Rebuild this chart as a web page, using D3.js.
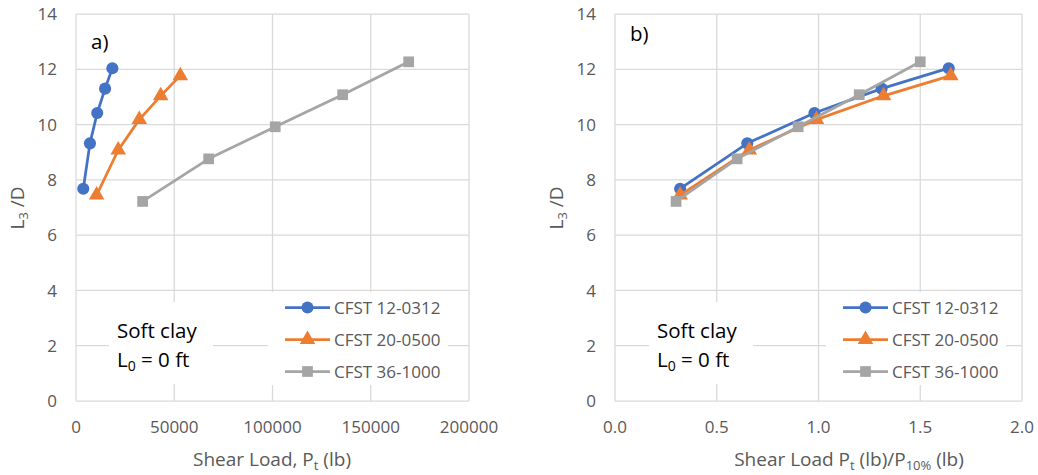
<!DOCTYPE html>
<meta charset="utf-8">
<style>
  body { margin: 0; background: #fff; }
  text { font-family: "Open Sans", "Liberation Sans", sans-serif; }
</style>
<body>
<script src="https://d3js.org/d3.v7.min.js"></script>
<script>

  // series names and L3/D values (same in both panels)
  const seriesNames = ["CFST 12-0312", "CFST 20-0500", "CFST 36-1000"];
  const colors = ["#4472c4", "#ed7d31", "#a5a5a5"];
  const symbols = [d3.symbolCircle, d3.symbolTriangle, d3.symbolSquare];

  const ld12 = [7.68, 9.32, 10.42, 11.30, 12.04];
  const ld20 = [7.45, 9.08, 10.18, 11.04, 11.77];
  const ld36 = [7.22, 8.76, 9.92, 11.08, 12.27];

  // panel a) shear load Pt (lb)
  const pt12 = [3700, 7100, 10800, 14800, 18500];
  const pt20 = [10500, 21500, 32200, 43100, 53100];
  const pt36 = [33900, 67500, 101400, 135700, 169300];

  // panel b) Pt / P10%
  const ratio12 = [0.32, 0.65, 0.98, 1.31, 1.64];
  const ratio20 = [0.32, 0.66, 0.99, 1.32, 1.65];
  const ratio36 = [0.30, 0.60, 0.90, 1.20, 1.50];

  const xTicksA = [0, 50000, 100000, 150000, 200000];
  const xTicksB = [0, 0.5, 1.0, 1.5, 2.0];
  const yTicks = [0, 2, 4, 6, 8, 10, 12, 14];

  const svg = d3.select("body").append("svg")
      .attr("width", 1038)
      .attr("height", 475);

  function panel(opt) {
    const x = d3.scaleLinear().domain(opt.xDomain).range([opt.left, opt.right]);
    const y = d3.scaleLinear().domain([0, 14]).range([401, 14]);
    const g = svg.append("g");

    // gridlines (also form the plot border)
    g.selectAll(".gx").data(opt.xTicks).enter().append("line")
      .attr("x1", d => x(d)).attr("x2", d => x(d))
      .attr("y1", y(0)).attr("y2", y(14))
      .attr("stroke", "#d9d9d9").attr("stroke-width", 1.25);
    g.selectAll(".gy").data(yTicks).enter().append("line")
      .attr("x1", x(opt.xDomain[0])).attr("x2", x(opt.xDomain[1]))
      .attr("y1", d => y(d)).attr("y2", d => y(d))
      .attr("stroke", "#d9d9d9").attr("stroke-width", 1.25);

    // tick labels
    g.selectAll(".tx").data(opt.xTicks).enter().append("text")
      .attr("x", d => x(d)).attr("y", 433)
      .attr("text-anchor", "middle")
      .attr("font-size", 17).attr("fill", "#595959")
      .text(opt.fmt);
    g.selectAll(".ty").data(yTicks).enter().append("text")
      .attr("x", opt.left - 19).attr("y", d => y(d))
      .attr("dy", "0.36em")
      .attr("text-anchor", "end")
      .attr("font-size", 17).attr("fill", "#595959")
      .text(d => d);

    // series
    const data = opt.xs.map((xs, i) => xs.map((v, j) => [v, opt.ys[i][j]]));
    const line = d3.line().x(d => x(d[0])).y(d => y(d[1]));
    data.forEach((pts, i) => {
      g.append("path").datum(pts)
        .attr("d", line)
        .attr("fill", "none")
        .attr("stroke", colors[i])
        .attr("stroke-width", 2.75)
        .attr("stroke-linejoin", "round");
      g.selectAll(null).data(pts).enter().append("path")
        .attr("transform", d => `translate(${x(d[0])},${y(d[1])})`)
        .attr("d", d3.symbol(symbols[i], i === 1 ? 105 : 115))
        .attr("fill", colors[i]);
    });

    // "Soft clay" note
    g.append("rect")
      .attr("x", opt.noteX - 8).attr("y", 302)
      .attr("width", 104).attr("height", 82)
      .attr("fill", "#fff");
    g.append("text")
      .attr("x", opt.noteX).attr("y", 338)
      .attr("font-size", 20.5).attr("fill", "#000")
      .text("Soft clay");
    const l0 = g.append("text")
      .attr("x", opt.noteX).attr("y", 367)
      .attr("font-size", 20.5).attr("fill", "#000");
    l0.append("tspan").text("L");
    l0.append("tspan").attr("font-size", 14).attr("dy", 4).text("0");
    l0.append("tspan").attr("dy", -4).text(" = 0 ft");

    // panel letter
    g.append("text")
      .attr("x", opt.letterX).attr("y", opt.letterY)
      .attr("font-size", 20.5).attr("fill", "#000")
      .text(opt.letter);

    // legend
    const lg = g.append("g");
    lg.append("rect")
      .attr("x", opt.legX - 17).attr("y", 292)
      .attr("width", 180).attr("height", 93)
      .attr("fill", "#fff");
    seriesNames.forEach((name, i) => {
      const ly = 307.5 + i * 32;
      lg.append("line")
        .attr("x1", opt.legX).attr("x2", opt.legX + 45)
        .attr("y1", ly).attr("y2", ly)
        .attr("stroke", colors[i]).attr("stroke-width", 2.75);
      lg.append("path")
        .attr("transform", `translate(${opt.legX + 22.5},${ly})`)
        .attr("d", d3.symbol(symbols[i], i === 1 ? 105 : 115))
        .attr("fill", colors[i]);
      lg.append("text")
        .attr("x", opt.legX + 49).attr("y", ly)
        .attr("dy", "0.36em")
        .attr("font-size", 17).attr("fill", "#595959")
        .text(name);
    });

    // y axis title
    const yt = g.append("text")
      .attr("transform", `translate(${opt.yTitleX},208) rotate(-90)`)
      .attr("text-anchor", "middle")
      .attr("font-size", 19).attr("fill", "#595959");
    yt.append("tspan").text("L");
    yt.append("tspan").attr("font-size", 13).attr("dy", 4).text("3");
    yt.append("tspan").attr("dy", -4).text(" /D");

    // x axis title
    const xt = g.append("text")
      .attr("x", opt.xTitleX).attr("y", 466)
      .attr("text-anchor", "middle")
      .attr("font-size", 19).attr("fill", "#595959");
    opt.xTitle.forEach(part => {
      const t = xt.append("tspan").text(part[0]);
      if (part[1]) t.attr("font-size", 13).attr("dy", 4);
      if (part[2]) t.attr("dy", -4);
    });
  }

  panel({
    left: 76, right: 469, xDomain: [0, 200000], xTicks: xTicksA,
    fmt: d => d3.format("d")(d),
    xs: [pt12, pt20, pt36], ys: [ld12, ld20, ld36],
    noteX: 117, letter: "a)", letterX: 91, letterY: 49,
    legX: 285, yTitleX: 24, xTitleX: 272,
    xTitle: [["Shear Load, P"], ["t", true], [" (lb)", false, true]]
  });

  panel({
    left: 615, right: 1022, xDomain: [0, 2], xTicks: xTicksB,
    fmt: d => d3.format(".1f")(d),
    xs: [ratio12, ratio20, ratio36], ys: [ld12, ld20, ld36],
    noteX: 657, letter: "b)", letterX: 630, letterY: 41,
    legX: 843, yTitleX: 563, xTitleX: 849,
    xTitle: [["Shear Load P"], ["t", true], [" (lb)/P", false, true], ["10%", true], [" (lb)", false, true]]
  });

</script>
</body>
